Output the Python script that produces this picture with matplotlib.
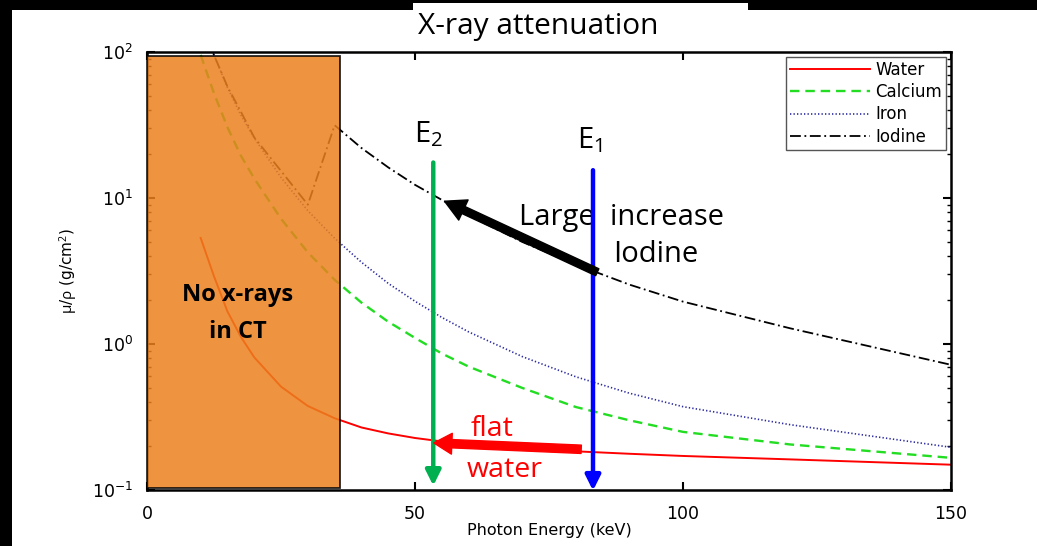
import matplotlib
matplotlib.use('Agg')
import matplotlib.pyplot as plt
from matplotlib.patches import Rectangle
from matplotlib.ticker import LogLocator, FixedLocator

plt.rcParams['font.family'] = ['DejaVu Sans']
plt.rcParams['mathtext.fontset'] = 'custom'
plt.rcParams['mathtext.rm'] = 'Open Sans'
plt.rcParams['mathtext.it'] = 'Open Sans'

# mass attenuation coefficients (cm^2/g)
water_E = [10, 12.5, 15, 17.5, 20, 25, 30, 35, 40, 45, 50, 55, 60, 70, 80, 90, 100, 120, 150]
water_mu = [5.33, 2.9, 1.67, 1.12, 0.81, 0.51, 0.376, 0.31, 0.268, 0.244, 0.227, 0.215,
            0.206, 0.193, 0.184, 0.177, 0.171, 0.162, 0.149]

calcium_E = [10, 12.5, 15, 17.5, 20, 25, 30, 35, 40, 45, 50, 55, 60, 70, 80, 90, 100, 120, 150]
calcium_mu = [95.5, 52, 30.5, 19.5, 13.6, 7.2, 4.24, 2.75, 1.92, 1.42, 1.10, 0.86,
              0.70, 0.50, 0.37, 0.30, 0.25, 0.205, 0.166]

iron_E = [10, 12.5, 15, 17.5, 20, 25, 30, 35, 40, 45, 50, 55, 60, 70, 80, 90, 100, 120, 150]
iron_mu = [170.6, 95, 57.1, 37, 25.7, 13.8, 8.18, 5.3, 3.63, 2.6, 1.96, 1.52,
           1.21, 0.82, 0.596, 0.46, 0.372, 0.28, 0.196]

iodine_E = [10, 12.5, 15, 17.5, 20, 25, 30, 35, 40, 45, 50, 55, 60, 70, 80, 90, 100, 120, 150]
iodine_mu = [162, 95, 58, 39, 26, 15.3, 9.0, 31.5, 22, 16.2, 12.3, 9.7,
             7.6, 5.0, 3.5, 2.55, 1.95, 1.28, 0.72]

no_ct_limit = 36      # keV, below this no x-rays in CT
E1 = 83.2
E2 = 53.4

fig = plt.figure(figsize=(10.37, 5.46), dpi=100, facecolor='black')

# white page and title box on the black background
fig.patches.append(Rectangle((0.0116, 0), 0.99, 0.9817, transform=fig.transFigure,
                             facecolor='white', edgecolor='none', zorder=-2))
fig.patches.append(Rectangle((0.398, 0.90), 0.3233, 0.0945, transform=fig.transFigure,
                             facecolor='white', edgecolor='none', zorder=-2))

ax = fig.add_axes([0.1418, 0.1026, 0.7753, 0.8022])
ax.set_zorder(1)
ax.set_facecolor('white')

ax.semilogy(water_E, water_mu, '-', color='#FF0000', lw=1.4, label='Water')
ax.semilogy(calcium_E, calcium_mu, '--', color='#22DD22', lw=1.7, dashes=(4, 2.5), label='Calcium')
ax.semilogy(iron_E, iron_mu, ':', color='#2B2BA0', lw=1.2, dashes=(0.8, 1.3), label='Iron')
ax.semilogy(iodine_E, iodine_mu, '-.', color='black', lw=1.3, dashes=(6, 2, 1, 2), label='Iodine')

ax.set_xlim(0, 150)
ax.set_ylim(0.1, 100)

# orange "no x-rays" box
ax.add_patch(Rectangle((0, 0.103), no_ct_limit, 94 - 0.103, facecolor='#EB811E',
                       edgecolor='black', lw=1.3, alpha=0.85, zorder=3))
ax.text(16.9, 1.62, 'No x-rays\nin CT', ha='center', va='center', fontsize=17,
        fontweight='bold', family='Open Sans', linespacing=1.75, zorder=4)

ax.xaxis.set_major_locator(FixedLocator([0, 50, 100, 150]))
ax.yaxis.set_major_locator(LogLocator(base=10, numticks=10))
ax.yaxis.set_minor_locator(LogLocator(base=10, subs=range(2, 10), numticks=10))
ax.tick_params(which='both', direction='in', top=True, right=True, labelsize=12.5,
               width=1.5)
ax.tick_params(which='major', length=6)
ax.tick_params(which='minor', length=3, width=1)
ax.tick_params(axis='x', which='major', pad=11)
ax.tick_params(axis='y', which='major', pad=10)
ax.tick_params(axis='x', which='minor', top=False, bottom=False)
for s in ax.spines.values():
    s.set_linewidth(1.8)

ax.set_xlabel('Photon Energy (keV)', fontsize=11.5, labelpad=0)
ax.set_ylabel(r'$\mu$/$\rho$ (g/cm$^2$)', fontsize=11, labelpad=9)

leg = ax.legend(loc='upper right', fontsize=12, handlelength=4.8, handletextpad=0.3,
                labelspacing=0.25, borderpad=0.25, fancybox=False, framealpha=1,
                edgecolor='#555555', borderaxespad=0.3)
leg.get_frame().set_linewidth(1.0)
leg.set_zorder(6)

fig.text(0.519, 0.951, 'X-ray attenuation', ha='center', va='center', fontsize=21.5,
         family='Open Sans', color='black')

# E1 / E2 energy markers
ax.annotate('', xy=(E2, 0.107), xytext=(E2, 17.5),
            arrowprops=dict(arrowstyle='-|>,head_width=0.45,head_length=0.9',
                            color='#00B050', lw=3.2, shrinkA=0, shrinkB=0), zorder=5)
ax.annotate('', xy=(E1, 0.099), xytext=(E1, 15.5),
            arrowprops=dict(arrowstyle='-|>,head_width=0.45,head_length=0.9',
                            color='#0000FF', lw=3.2, shrinkA=0, shrinkB=0),
            annotation_clip=False, zorder=5)
ax.text(E2 - 0.8, 27.5, r'E$_2$', ha='center', va='center', fontsize=21, family='Open Sans')
ax.text(E1 - 0.6, 25, r'E$_1$', ha='center', va='center', fontsize=21, family='Open Sans')

# big arrows
ax.annotate('', xy=(55.5, 9.5), xytext=(84, 3.1),
            arrowprops=dict(arrowstyle='simple,head_width=1.6,head_length=1.5,tail_width=0.55',
                            color='black', shrinkA=0, shrinkB=0), zorder=5)
ax.text(69.4, 7.3, 'Large  increase', ha='left', va='center', fontsize=21, family='Open Sans')
ax.text(86.9, 4.1, 'Iodine', ha='left', va='center', fontsize=21, family='Open Sans')

ax.annotate('', xy=(53.5, 0.21), xytext=(81, 0.19),
            arrowprops=dict(arrowstyle='simple,head_width=1.5,head_length=1.3,tail_width=0.6',
                            color='#FF0000', shrinkA=0, shrinkB=0), zorder=5)
ax.text(60.3, 0.262, 'flat', ha='left', va='center', fontsize=20.5, family='Open Sans', color='#FF0000')
ax.text(59.6, 0.137, 'water', ha='left', va='center', fontsize=20.5, family='Open Sans', color='#FF0000')

fig.savefig('out.png', dpi=100, facecolor=fig.get_facecolor())
